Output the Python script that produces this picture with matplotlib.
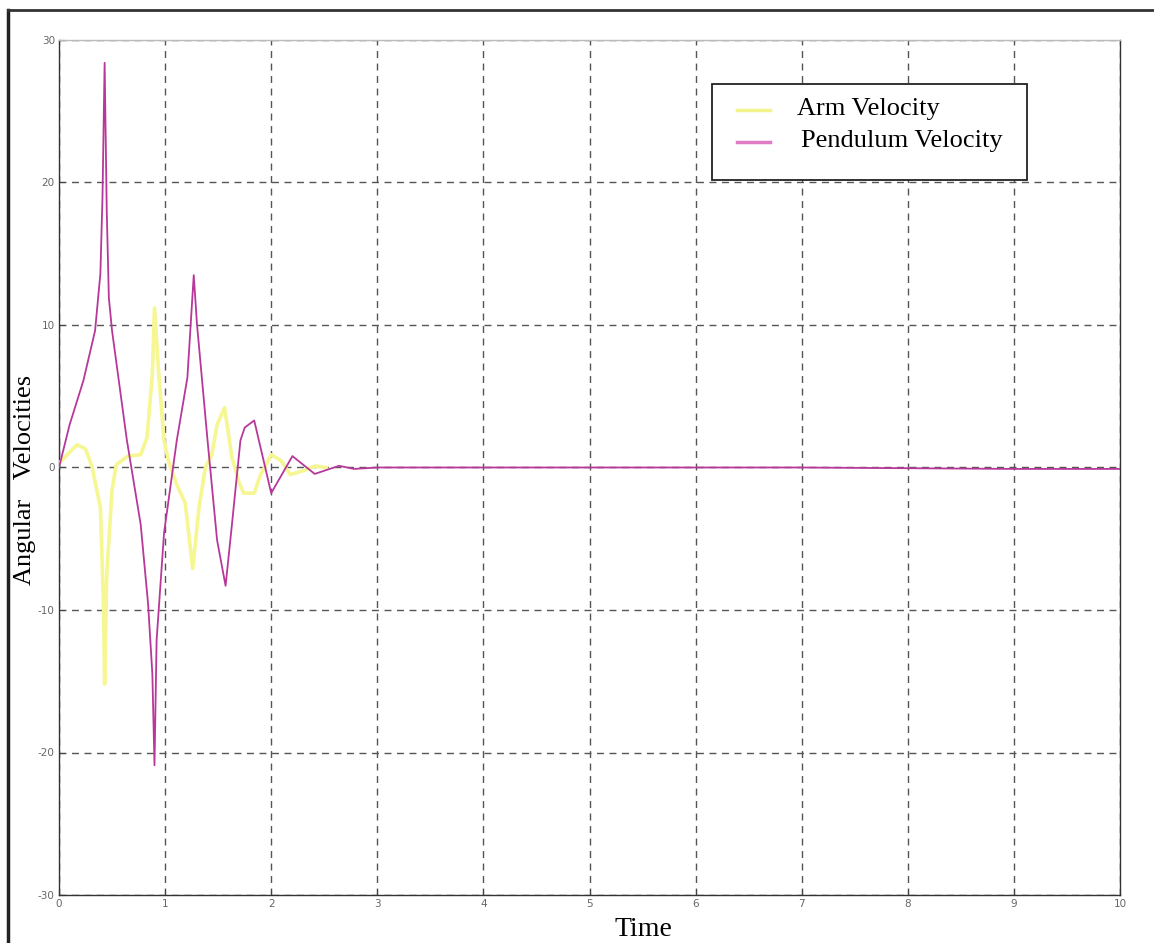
import matplotlib
matplotlib.use("Agg")
import matplotlib.pyplot as plt
from matplotlib.lines import Line2D
from matplotlib.patches import Rectangle

plt.rcParams["axes.unicode_minus"] = False

# Pendulum velocity
pend_t = [0.0, 0.10, 0.23, 0.34, 0.39, 0.41, 0.43, 0.45, 0.47, 0.50, 0.64, 0.77, 0.84, 0.88, 0.90,
          0.92, 0.99, 1.11, 1.21, 1.27, 1.30, 1.40, 1.49, 1.57, 1.63, 1.71, 1.75, 1.84, 2.00,
          2.20, 2.41, 2.64, 2.78, 3.0, 4.0, 5.0, 6.0, 7.0, 8.0, 9.0, 10.0]
pend_v = [0.0, 3.0, 6.1, 9.6, 13.6, 19.0, 28.4, 18.0, 11.9, 9.6, 1.9, -4.0, -9.6, -14.5, -20.9,
          -12.1, -4.6, 1.9, 6.3, 13.5, 10.1, 1.9, -5.1, -8.3, -4.0, 1.9, 2.8, 3.3, -1.8,
          0.8, -0.45, 0.12, -0.1, 0.0, 0.0, 0.0, 0.0, 0.0, -0.05, -0.1, -0.1]

# Arm velocity
arm_t = [0.0, 0.17, 0.25, 0.31, 0.39, 0.42, 0.43, 0.45, 0.50, 0.54, 0.65, 0.77, 0.83, 0.88, 0.90,
         0.94, 0.99, 1.03, 1.11, 1.19, 1.26, 1.32, 1.38, 1.44, 1.49, 1.56, 1.63, 1.69, 1.74,
         1.84, 1.90, 2.00, 2.09, 2.18, 2.31, 2.41, 2.52]
arm_v = [0.3, 1.6, 1.3, 0.1, -2.8, -9.8, -15.2, -7.5, -1.6, 0.2, 0.8, 0.9, 2.1, 6.6, 11.2,
         6.6, 1.9, 0.5, -1.2, -2.5, -7.1, -2.8, 0.0, 0.9, 3.0, 4.2, 0.7, -0.9, -1.8,
         -1.8, -0.5, 0.9, 0.5, -0.5, -0.2, 0.1, 0.0]

xticks = list(range(0, 11))
yticks = [-30, -20, -10, 0, 10, 20, 30]
series_names = ["Arm Velocity", "Pendulum Velocity"]

W, H = 1154, 943
fig = plt.figure(figsize=(W / 100, H / 100), dpi=100)
ax = fig.add_axes([59 / W, 1 - 895 / H, (1120 - 59) / W, (895 - 40) / H])

ax.plot(arm_t, arm_v, color="#f6f692", lw=2.6, zorder=3)
ax.plot(pend_t, pend_v, color="#b8389a", lw=1.3, zorder=4)

ax.set_xlim(0, 10)
ax.set_ylim(-30, 30)
ax.set_xticks(xticks)
ax.set_yticks(yticks)
ax.tick_params(direction="in", length=4, width=0.8, colors="#444444", labelsize=7.5,
               labelcolor="#666666", pad=3)
ax.grid(True, color="#555555", ls=(0, (5, 4)), lw=1.0)
for s in ["left", "bottom", "right"]:
    ax.spines[s].set_color("#333333")
    ax.spines[s].set_linewidth(1.0)
ax.spines["top"].set_color("#bbbbbb")
ax.spines["top"].set_linewidth(1.0)

ax.set_xlabel("Time", family="Liberation Serif", fontsize=20)
ax.xaxis.set_label_coords((643 - 59) / 1061, -(929 - 895) / 855, transform=ax.transAxes)
ax.xaxis.label.set_va("center")
ax.set_ylabel("Angular   Velocities", family="Liberation Serif", fontsize=19)
ax.yaxis.set_label_coords((25 - 59) / 1061, (895 - 480) / 855)
ax.yaxis.label.set_va("center")

# legend drawn in figure pixel coordinates
def fx(px):
    return px / W

def fy(py):
    return 1 - py / H

fig.add_artist(Rectangle((fx(712), fy(180)), fx(1027) - fx(712), fy(84) - fy(180),
                         transform=fig.transFigure, facecolor="white",
                         edgecolor="#222222", lw=1.3, zorder=10))
leg_colors = ["#f4f48e", "#e07cc4"]
leg_y = [109, 141]
leg_x = [797, 801]
for name, c, yy, xx in zip(series_names, leg_colors, leg_y, leg_x):
    fig.add_artist(Line2D([fx(737), fx(770)], [fy(yy + 1), fy(yy + 1)],
                          transform=fig.transFigure, color=c, lw=2.5, zorder=11))
    fig.text(fx(xx), fy(yy), name, family="Liberation Serif", fontsize=19,
             va="center", ha="left", zorder=12)

# scanned page border (left and top)
fig.add_artist(Line2D([fx(8), fx(8)], [0, fy(10)], transform=fig.transFigure,
                      color="#222222", lw=2.5))
fig.add_artist(Line2D([fx(8), 1], [fy(10), fy(10)], transform=fig.transFigure,
                      color="#333333", lw=2.0))

fig.savefig("out.png", dpi=100)
